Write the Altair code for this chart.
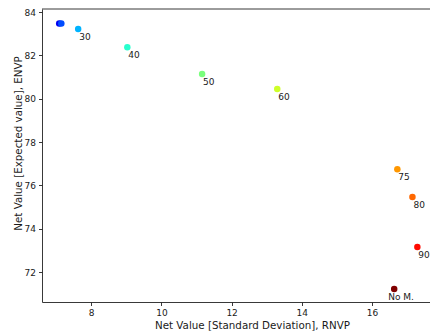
import altair as alt
import pandas as pd

# Scenario labels, risk (std dev) and expected net value
labels = ["", "", "30", "40", "50", "60", "75", "80", "90", "No M."]
rnvp = [7.09, 7.15, 7.63, 9.03, 11.16, 13.30, 16.72, 17.15, 17.29, 16.63]
envp = [83.47, 83.47, 83.22, 82.38, 81.14, 80.45, 76.75, 75.46, 73.16, 71.22]
# jet colormap colours per scenario
colors = ["#0000f1", "#004cff", "#00b3ff", "#29ffce", "#7aff7d",
          "#ceff29", "#ff9700", "#ff6800", "#ff0a00", "#800000"]

df = pd.DataFrame({"label": labels, "rnvp": rnvp, "envp": envp, "color": colors})

FONT = "DejaVu Sans"
xdom = [6.6, 17.65]
ydom = [70.62, 84.14]

x_enc = alt.X(
    "rnvp:Q",
    scale=alt.Scale(domain=xdom, nice=False, zero=False),
    axis=alt.Axis(
        title="Net Value [Standard Deviation], RNVP",
        values=[8, 10, 12, 14, 16],
        grid=False,
        tickSize=3.5,
        labelPadding=3,
        titlePadding=3,
        titleX=210,
        titleAlign="center",
        domainColor="#222222",
        tickColor="#222222",
        domainWidth=0.9,
        tickWidth=0.9,
    ),
)
y_enc = alt.Y(
    "envp:Q",
    scale=alt.Scale(domain=ydom, nice=False, zero=False),
    axis=alt.Axis(
        title="Net Value [Expected value], ENVP",
        values=[72, 74, 76, 78, 80, 82, 84],
        grid=False,
        tickSize=3.5,
        labelPadding=3,
        titleX=-24,
        titleY=134,
        titleAlign="center",
        titleBaseline="middle",
        titleAngle=270,
        domainColor="#222222",
        tickColor="#222222",
        domainWidth=0.9,
        tickWidth=0.9,
    ),
)

base = alt.Chart(df)

points = base.mark_circle(size=42, opacity=1).encode(
    x=x_enc,
    y=y_enc,
    color=alt.Color("color:N", scale=None),
)

num_labels = base.transform_filter(
    (alt.datum.label != "") & (alt.datum.label != "No M.")
).mark_text(
    align="left", baseline="alphabetic", dx=1, dy=11,
    font=FONT, fontSize=9, color="#1a1a1a",
).encode(x="rnvp:Q", y="envp:Q", text="label:N")

nom_label = base.transform_filter(alt.datum.label == "No M.").mark_text(
    align="left", baseline="alphabetic", dx=-6, dy=11,
    font=FONT, fontSize=9, color="#1a1a1a",
).encode(x="rnvp:Q", y="envp:Q", text="label:N")

# top spine
top = alt.Chart(pd.DataFrame({"v": [0]})).mark_rule(
    color="#222222", strokeWidth=0.9
).encode(x=alt.value(0), x2=alt.value(388), y=alt.value(0))

chart = (
    alt.layer(points, num_labels, nom_label, top)
    .properties(
        width=388,
        height=293,
        autosize=alt.AutoSizeParams(type="none"),
        padding={"left": 42, "top": 9, "right": 0, "bottom": 33},
    )
    .configure_view(stroke=None)
    .configure_axis(
        labelFont=FONT, titleFont=FONT, labelFontSize=9, titleFontSize=10.3,
        labelColor="#1a1a1a", titleColor="#1a1a1a", titleFontWeight="normal",
    )
)

chart.save("out.html", embed_options={"renderer": "svg", "actions": False})
